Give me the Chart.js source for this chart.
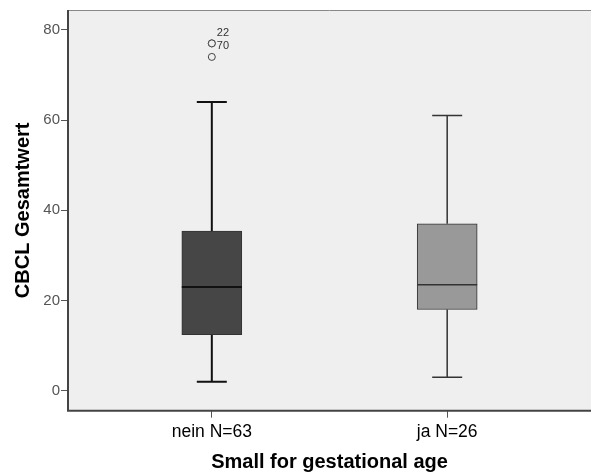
<!DOCTYPE html>
<html>
<head>
<meta charset="utf-8">
<script src="https://cdn.jsdelivr.net/npm/chart.js@4.4.1/dist/chart.umd.min.js"></script>
<style>
html,body{margin:0;padding:0;background:#fff;overflow:hidden;}
#c{display:block;}
</style>
</head>
<body>
<canvas id="c" width="591" height="475"></canvas>
<script>
// ---- data ----
const categories = ['nein N=63', 'ja N=26'];
const q1 = [12.4, 18.0];
const median = [23.0, 23.5];
const q3 = [35.4, 37.0];
const whiskerLow = [2, 3];
const whiskerHigh = [64, 61];
const outlierValues = [77, 77, 74];
const outlierGroup = [0, 0, 0];
const outlierCase = ['22', '70', ''];
const yTicks = [0, 20, 40, 60, 80];
const xTitle = 'Small for gestational age';
const yTitle = 'CBCL Gesamtwert';

// ---- styles ----
const boxFill = ['#464646', '#999999'];
const lineColor = ['#111111', '#333333'];
const lineWidth = [2, 1.5];
const PLOT_BG = '#efefef';

const boxPlugin = {
  id: 'boxplot',
  beforeDraw(chart) {
    const {ctx, chartArea: a} = chart;
    ctx.save();
    ctx.fillStyle = PLOT_BG;
    ctx.fillRect(a.left, a.top, a.right - a.left, a.bottom - a.top);
    ctx.restore();
  },
  beforeDatasetsDraw(chart) {
    const {ctx, scales: {x, y}} = chart;
    ctx.save();
    categories.forEach((c, i) => {
      const px = x.getPixelForValue(i + 1);
      ctx.strokeStyle = lineColor[i];
      ctx.lineWidth = lineWidth[i];
      ctx.beginPath();
      ctx.moveTo(px, y.getPixelForValue(whiskerHigh[i]));
      ctx.lineTo(px, y.getPixelForValue(q3[i]));
      ctx.moveTo(px, y.getPixelForValue(q1[i]));
      ctx.lineTo(px, y.getPixelForValue(whiskerLow[i]));
      const cap = 15;
      [whiskerHigh[i], whiskerLow[i]].forEach(v => {
        const py = y.getPixelForValue(v);
        ctx.moveTo(px - cap, py);
        ctx.lineTo(px + cap, py);
      });
      ctx.stroke();
    });
    ctx.restore();
  },
  afterDatasetsDraw(chart) {
    const {ctx, scales: {x, y}, chartArea: a} = chart;
    ctx.save();
    const meta = chart.getDatasetMeta(0);
    categories.forEach((c, i) => {
      const bar = meta.data[i];
      const half = bar.width / 2;
      const px = x.getPixelForValue(i + 1);
      const py = y.getPixelForValue(median[i]);
      ctx.strokeStyle = lineColor[i];
      ctx.lineWidth = lineWidth[i];
      ctx.beginPath();
      ctx.moveTo(px - half, py);
      ctx.lineTo(px + half, py);
      ctx.stroke();
    });
    // outlier case labels (stacked for equal values)
    ctx.fillStyle = '#333';
    ctx.font = '11px Arial, "Liberation Sans", sans-serif';
    ctx.textBaseline = 'middle';
    ctx.textAlign = 'left';
    const groups = {};
    outlierValues.forEach((v, i) => {
      if (!outlierCase[i]) return;
      const key = outlierGroup[i] + '_' + v;
      (groups[key] = groups[key] || []).push(i);
    });
    Object.values(groups).forEach(list => {
      const n = list.length;
      list.forEach((idx, k) => {
        const px = x.getPixelForValue(outlierGroup[idx] + 1);
        const py = y.getPixelForValue(outlierValues[idx]);
        ctx.fillText(outlierCase[idx], px + 5, py + 3 - (n - 1 - k) * 13);
      });
    });
    // frame
    ctx.strokeStyle = '#888';
    ctx.lineWidth = 1;
    ctx.beginPath();
    ctx.moveTo(a.left, a.top + 0.5);
    ctx.lineTo(a.right, a.top + 0.5);
    ctx.stroke();
    ctx.strokeStyle = '#444';
    ctx.lineWidth = 2;
    ctx.beginPath();
    ctx.moveTo(a.left, a.top);
    ctx.lineTo(a.left, a.bottom);
    ctx.lineTo(a.right, a.bottom);
    ctx.stroke();
    ctx.restore();
  }
};

new Chart(document.getElementById('c'), {
  data: {
    datasets: [
      {
        type: 'bar',
        data: categories.map((c, i) => ({x: i + 1, y: [q1[i], q3[i]]})),
        backgroundColor: boxFill,
        borderColor: '#333',
        borderWidth: 1,
        borderSkipped: false,
        barThickness: 60
      },
      {
        type: 'scatter',
        data: outlierValues.map((v, i) => ({x: outlierGroup[i] + 1, y: v})),
        pointRadius: 3.5,
        pointBackgroundColor: PLOT_BG,
        pointBorderColor: '#444',
        pointBorderWidth: 1
      }
    ]
  },
  options: {
    responsive: false,
    animation: false,
    layout: {autoPadding: false, padding: {top: 10, left: 0, right: 0, bottom: 0}},
    plugins: {legend: {display: false}, tooltip: {enabled: false}},
    scales: {
      x: {
        type: 'linear',
        min: 0.389,
        max: 2.611,
        offset: false,
        border: {display: false},
        grid: {offset: false, drawOnChartArea: false, drawTicks: true, tickLength: 7, color: '#555', lineWidth: 1},
        afterBuildTicks: s => { s.ticks = categories.map((c, i) => ({value: i + 1})); },
        afterFit: s => { s.height = 64.3; },
        ticks: {
          color: '#000',
          font: {family: 'Arial, "Liberation Sans", sans-serif', size: 17.5},
          padding: 4,
          autoSkip: false,
          maxRotation: 0,
          callback: (v) => categories[Math.round(v) - 1] || ''
        },
        title: {
          display: true,
          text: xTitle,
          color: '#000',
          font: {family: 'Arial, "Liberation Sans", sans-serif', size: 20, weight: 'bold'},
          padding: {top: 0, bottom: 1}
        }
      },
      y: {
        type: 'linear',
        min: -4.43,
        max: 84.4,
        border: {display: false},
        grid: {drawOnChartArea: false, drawTicks: true, tickLength: 7, color: '#555', lineWidth: 1},
        afterBuildTicks: s => { s.ticks = yTicks.map(v => ({value: v})); },
        afterFit: s => { s.width = 68; },
        ticks: {
          color: '#555',
          font: {family: 'Arial, "Liberation Sans", sans-serif', size: 15},
          padding: 1
        },
        title: {
          display: true,
          text: yTitle,
          color: '#000',
          font: {family: 'Arial, "Liberation Sans", sans-serif', size: 20, weight: 'bold'},
          padding: {top: 11, bottom: 0}
        }
      }
    }
  },
  plugins: [boxPlugin]
});
</script>
</body>
</html>
